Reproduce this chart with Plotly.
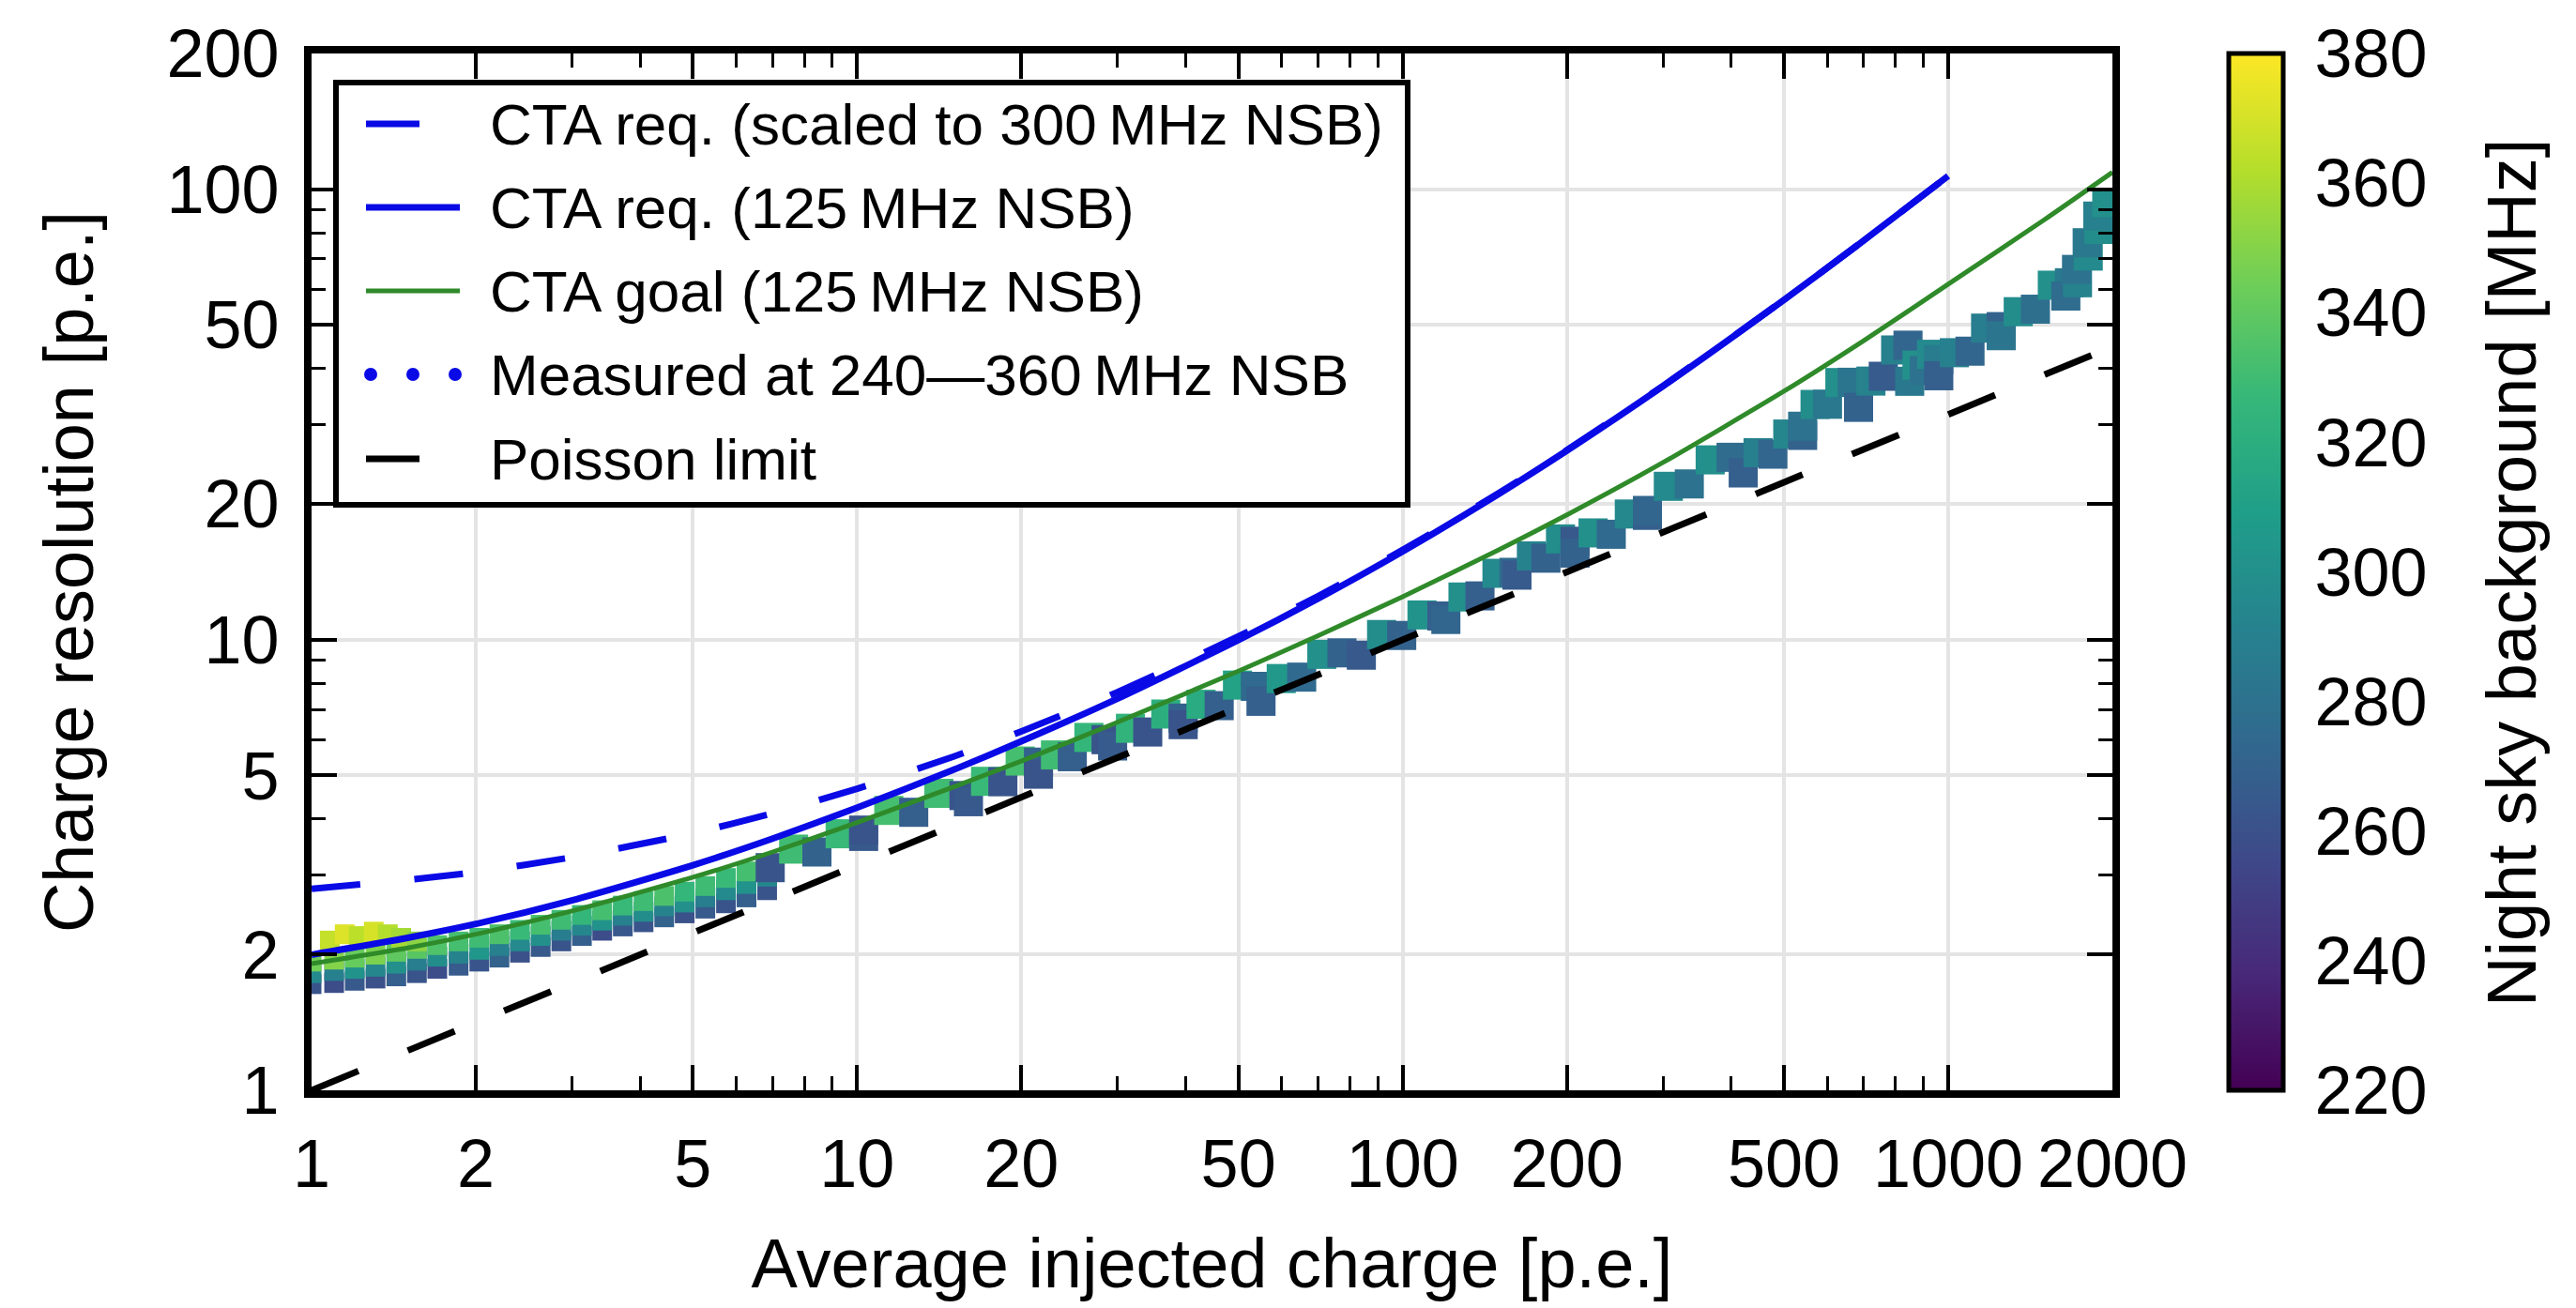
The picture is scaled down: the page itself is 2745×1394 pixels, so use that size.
import plotly.graph_objects as go

# ---------------------------------------------------------------------------
# Model curves: charge resolution (p.e.) versus average injected charge (p.e.)
# ---------------------------------------------------------------------------
req_charge = [1, 1.5, 2, 3, 5, 7, 10, 15, 20, 30, 50, 70, 100, 150, 200, 300, 500, 700, 1000]
req_125 = [2.0, 2.18, 2.34, 2.64, 3.16, 3.62, 4.24, 5.14, 5.95, 7.40, 9.98, 12.34, 15.70,
           21.06, 26.28, 36.53, 56.77, 76.88, 106.97]
req_300 = [2.80, 2.93, 3.05, 3.29, 3.72, 4.12, 4.67, 5.50, 6.26, 7.65, 10.17, 12.50, 15.82,
           21.15, 26.36, 36.58, 56.80, 76.90, 107.0]

goal_charge = [1, 1.5, 2, 3, 5, 7, 10, 15, 20, 30, 50, 70, 100, 150, 200, 300, 500, 700,
               1000, 1500, 2000]
goal_125 = [1.91, 2.07, 2.22, 2.50, 2.97, 3.38, 3.93, 4.71, 5.38, 6.56, 8.52, 10.21, 12.46,
            15.83, 18.93, 24.73, 35.6, 46.1, 61.5, 85.5, 109.0]

poisson_charge = [1, 10, 100, 1000, 2000]
poisson_res = [1.0, 3.16, 10.0, 31.6, 44.7]

# ---------------------------------------------------------------------------
# Measurements (charge, resolution, night-sky background rate in MHz)
# ---------------------------------------------------------------------------
# low-charge scan, three NSB groups sharing the same charge steps
lc_charge = [1.00, 1.10, 1.20, 1.31, 1.43, 1.56, 1.70, 1.86, 2.03, 2.21, 2.41, 2.63,
             2.87, 3.13, 3.41, 3.72, 4.06, 4.43, 4.83, 5.27, 5.75, 6.27, 6.84]
lc_res_low = [1.72, 1.73, 1.75, 1.77, 1.79, 1.82, 1.86, 1.89, 1.93, 1.97, 2.02, 2.08,
              2.14, 2.20, 2.26, 2.31, 2.36, 2.42, 2.47, 2.53, 2.60, 2.68, 2.78]
lc_nsb_low = [262, 258, 265, 260, 268, 262, 258, 266, 262, 270, 260, 265,
              262, 268, 258, 264, 262, 270, 260, 266, 262, 268, 262]
lc_res_mid = [1.82, 1.84, 1.86, 1.88, 1.91, 1.94, 1.98, 2.01, 2.05, 2.09, 2.14, 2.20,
              2.26, 2.32, 2.38, 2.44, 2.49, 2.56, 2.61, 2.68, 2.78, 2.87, 2.98]
lc_nsb_mid = [296, 290, 302, 294, 300, 288, 298, 292, 304, 290, 296, 300,
              288, 294, 302, 290, 298, 292, 300, 288, 296, 302, 294]
lc_res_high = [1.93, 1.95, 1.97, 2.00, 2.03, 2.06, 2.10, 2.14, 2.18, 2.22, 2.27, 2.33,
               2.39, 2.45, 2.51, 2.57, 2.63, 2.70, 2.76, 2.84, 2.96, 3.06, 3.18]
lc_nsb_high = [345, 350, 342, 348, 340, 338, 335, 332, 330, 334, 328, 332,
               330, 326, 332, 328, 330, 334, 326, 330, 328, 332, 330]

# high-NSB runs at the lowest illumination
hn_charge = [1.08, 1.15, 1.22, 1.30, 1.38, 1.46, 1.56]
hn_res = [2.15, 2.22, 2.20, 2.25, 2.22, 2.18, 2.14]
hn_nsb = [366, 372, 364, 370, 362, 358, 352]

# higher-charge scan, grouped runs
hc_charge = [
    6.93, 7.65, 8.44, 9.31, 10.28,
    10.28, 11.43, 12.70, 14.12, 15.7,
    16.0, 17.2, 18.5, 19.9, 21.5,
    21.5, 23.1, 24.8, 26.6, 28.6,
    29.4, 31.7, 34.1, 36.8, 39.6,
    39.6, 42.7, 46.1, 49.8, 53.7,
    55.0, 59.9, 65.3, 71.1, 77.4,
    84.0, 91.5, 99.6, 108.5, 118.0,
    120.0, 129.0, 138.6, 148.9, 160.0,
    162.0, 172.2, 183.1, 194.7, 207.0,
    207.0, 223.4, 241.2, 260.3, 281.0,
    281.0, 306.9, 335.3, 366.2, 400.0,
    421.0, 448.2, 477.2, 508.1, 541.0,
    541.0, 570.1, 600.8, 633.1, 667.0,
    685.0, 721.7, 760.4, 801.1, 844.0,
    850.0, 876.5, 903.9, 932.1, 961.0,
    961.0, 1026.4, 1096.4, 1171.1, 1251.0,
    1251.0, 1344.0, 1445.0, 1552.0, 1668.0,
    1643.0, 1726.0, 1719.0, 1806.0, 1798.0, 1889.0, 1880.0, 1953.0,
]
hc_res = [
    3.12, 3.43, 3.38, 3.71, 3.66,
    3.78, 4.18, 4.14, 4.56, 4.51,
    4.37, 4.85, 4.84, 5.38, 5.35,
    5.03, 5.55, 5.50, 6.07, 6.00,
    5.81, 6.36, 6.24, 6.84, 6.70,
    6.48, 7.19, 7.14, 7.93, 7.88,
    7.30, 8.20, 8.26, 9.28, 9.35,
    9.24, 10.27, 10.22, 11.35, 11.29,
    11.09, 12.44, 12.51, 14.04, 14.11,
    13.91, 15.35, 15.17, 16.74, 16.54,
    15.57, 17.26, 17.14, 19.01, 18.88,
    19.36, 21.9, 22.17, 25.07, 25.4,
    23.45, 26.0, 25.81, 28.61, 28.41,
    29.77, 33.28, 33.31, 37.22, 37.27,
    32.79, 37.5, 38.43, 43.96, 45.05,
    37.46, 40.69, 39.59, 43.0, 41.84,
    38.53, 43.35, 43.69, 49.15, 49.53,
    47.29, 53.46, 54.14, 61.21, 61.98,
    57.9, 61.98, 66.35, 71.03, 76.04, 81.4, 87.14, 93.3,
]
hc_nsb = [
    262, 330, 270, 328, 265,
    262, 332, 268, 330, 262,
    265, 328, 262, 332, 270,
    262, 330, 268, 326, 262,
    266, 324, 262, 320, 270,
    262, 318, 268, 312, 275,
    268, 305, 275, 300, 270,
    265, 298, 270, 302, 268,
    272, 300, 268, 296, 275,
    266, 292, 270, 298, 265,
    270, 300, 275, 295, 268,
    272, 296, 280, 300, 276,
    268, 290, 272, 294, 270,
    280, 298, 284, 300, 282,
    270, 292, 266, 290, 272,
    284, 300, 280, 296, 286,
    268, 290, 272, 288, 270,
    282, 298, 278, 300, 285,
    276, 292, 280, 296, 284, 298, 290, 300,
]

x_ticks = [1, 2, 5, 10, 20, 50, 100, 200, 500, 1000, 2000]
x_minor = [3, 4, 6, 7, 8, 9, 30, 40, 60, 70, 80, 90, 300, 400, 600, 700, 800, 900]
y_ticks = [1, 2, 5, 10, 20, 50, 100, 200]
y_minor = [3, 4, 6, 7, 8, 9, 30, 40, 60, 70, 80, 90]
nsb_ticks = [220, 240, 260, 280, 300, 320, 340, 360, 380]

legend_labels = [
    "CTA req. (scaled to 300\u2009MHz NSB)",
    "CTA req. (125\u2009MHz NSB)",
    "CTA goal (125\u2009MHz NSB)",
    "Measured at 240\u2014360\u2009MHz NSB",
    "Poisson limit",
]

FONT = "Liberation Sans, Arial, Helvetica, sans-serif"
BLUE = "#0a0ae6"
GREEN = "#2f8a2a"

fig = go.Figure()

# low-charge scan (dense, three NSB groups plus high-NSB runs)
fig.add_trace(go.Scatter(
    x=lc_charge + lc_charge + lc_charge + hn_charge,
    y=lc_res_low + lc_res_mid + lc_res_high + hn_res,
    mode="markers", name=legend_labels[3], showlegend=False,
    marker=dict(symbol="square", size=21, line=dict(width=0),
                color=lc_nsb_low + lc_nsb_mid + lc_nsb_high + hn_nsb, coloraxis="coloraxis"),
))
# higher-charge scan
fig.add_trace(go.Scatter(
    x=hc_charge, y=hc_res, mode="markers", name=legend_labels[3], showlegend=False,
    marker=dict(symbol="square", size=31, line=dict(width=0),
                color=hc_nsb, coloraxis="coloraxis"),
))

fig.add_trace(go.Scatter(
    x=req_charge, y=req_300, mode="lines", name=legend_labels[0],
    line=dict(color=BLUE, width=7, dash="52px,58px", shape="spline", smoothing=0.6),
))
fig.add_trace(go.Scatter(
    x=req_charge, y=req_125, mode="lines", name=legend_labels[1],
    line=dict(color=BLUE, width=7, shape="spline", smoothing=0.6),
))
fig.add_trace(go.Scatter(
    x=goal_charge, y=goal_125, mode="lines", name=legend_labels[2],
    line=dict(color=GREEN, width=5, shape="spline", smoothing=0.6),
))
fig.add_trace(go.Scatter(
    x=poisson_charge, y=poisson_res, mode="lines", name=legend_labels[4],
    line=dict(color="black", width=7, dash="54px,57px"),
))

axis_common = dict(
    type="log", showline=True, linewidth=8, linecolor="black", mirror="allticks",
    ticks="inside", ticklen=27, tickwidth=3.5, tickcolor="black",
    showgrid=True, gridcolor="#e4e4e4", gridwidth=4, zeroline=False,
    tickfont=dict(family=FONT, size=72, color="black"),
)

fig.update_xaxes(
    **axis_common, range=[0, 3.30103], tickmode="array", tickvals=x_ticks,
    ticktext=[str(v) for v in x_ticks], ticklabelstandoff=9,
    minor=dict(tickmode="array", tickvals=x_minor, ticks="inside", ticklen=15,
               tickwidth=3, tickcolor="black", showgrid=False),
    title=dict(text="Average injected charge [p.e.]", standoff=44,
               font=dict(family=FONT, size=74, color="black")),
)
fig.update_yaxes(
    **axis_common, range=[0, 2.30103], tickmode="array", tickvals=y_ticks,
    ticktext=[str(v) for v in y_ticks], ticklabelstandoff=12,
    minor=dict(tickmode="array", tickvals=y_minor, ticks="inside", ticklen=15,
               tickwidth=3, tickcolor="black", showgrid=False),
    title=dict(text="Charge resolution [p.e.]", standoff=57,
               font=dict(family=FONT, size=74, color="black")),
)

# Legend panel drawn inside the plot area
PLOT_L, PLOT_R, PLOT_T, PLOT_B = 332, 2251, 57, 1162
W, H = PLOT_R - PLOT_L, PLOT_B - PLOT_T


def px(xp):
    return (xp - PLOT_L) / W


def py(yp):
    return (PLOT_B - yp) / H


shapes = [dict(type="rect", xref="paper", yref="paper", layer="above",
               x0=px(358), x1=px(1500), y0=py(538), y1=py(88),
               line=dict(color="black", width=6), fillcolor="white")]
row_y = [132, 221, 310, 399, 489]
sample_x0, sample_x1, text_x = 390, 490, 520
sample_styles = [
    dict(color=BLUE, width=7, dash="57px,60px"),
    dict(color=BLUE, width=7),
    dict(color=GREEN, width=5),
    None,
    dict(color="black", width=7, dash="57px,60px"),
]
for yy, style in zip(row_y, sample_styles):
    if style is None:
        for cx in (395, 440, 485):
            shapes.append(dict(type="circle", xref="paper", yref="paper", layer="above",
                               x0=px(cx - 7), x1=px(cx + 7), y0=py(yy + 7), y1=py(yy - 7),
                               fillcolor=BLUE, line=dict(width=0)))
    else:
        shapes.append(dict(type="line", xref="paper", yref="paper", layer="above",
                           x0=px(sample_x0), x1=px(sample_x1), y0=py(yy), y1=py(yy),
                           line=style))

annotations = [
    dict(text=label, xref="paper", yref="paper", x=px(text_x), y=py(yy),
         xanchor="left", yanchor="middle", showarrow=False,
         font=dict(family=FONT, size=62, color="black"))
    for label, yy in zip(legend_labels, row_y)
]
# colour-bar caption
annotations.append(dict(
    text="Night sky background [MHz]", xref="paper", yref="paper",
    x=px(2676), y=py(611), xanchor="center", yanchor="middle", textangle=-90,
    showarrow=False, font=dict(family=FONT, size=74, color="black"),
))

fig.update_layout(
    width=2745, height=1394,
    margin=dict(l=PLOT_L, r=2745 - PLOT_R, t=PLOT_T, b=1394 - PLOT_B, pad=0),
    paper_bgcolor="white", plot_bgcolor="white",
    font=dict(family=FONT, size=72, color="black"),
    showlegend=False, shapes=shapes, annotations=annotations,
    coloraxis=dict(
        colorscale="Viridis", cmin=220, cmax=380,
        colorbar=dict(
            x=1.0646, xanchor="left", xpad=0, y=0.5, yanchor="middle",
            len=1, lenmode="fraction", ypad=0, thickness=58,
            outlinewidth=5, outlinecolor="black",
            tickmode="array", tickvals=nsb_ticks,
            ticks="outside", ticklen=17, tickcolor="rgba(0,0,0,0)",
            tickfont=dict(family=FONT, size=72, color="black"),
        ),
    ),
)

fig.write_html("out.html")
